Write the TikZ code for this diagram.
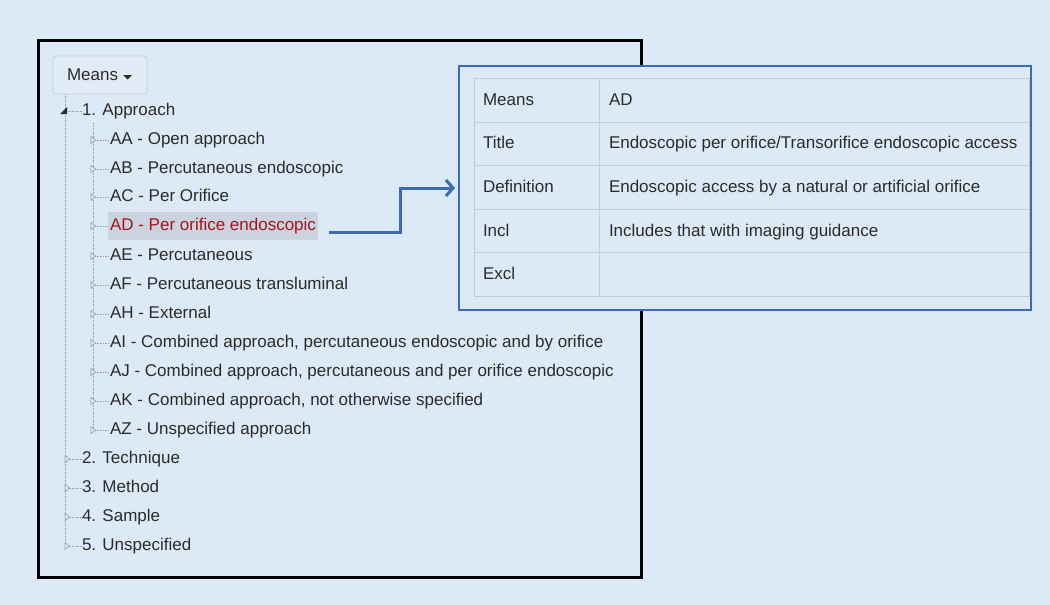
\documentclass[tikz,border=0pt]{standalone}
\usepackage{fontspec}
\setmainfont{Liberation Sans}
\usetikzlibrary{arrows.meta,calc}
\definecolor{bg}{HTML}{DCE9F6}
\definecolor{tblline}{HTML}{C3CDD8}
\definecolor{boxblue}{HTML}{3B6BB3}
\definecolor{adred}{HTML}{A3141B}
\definecolor{adhl}{HTML}{CBD4DE}
\definecolor{treegray}{HTML}{9EA4AA}
\definecolor{txt}{HTML}{2B2B2B}
\definecolor{btnline}{HTML}{C8D2DC}
\definecolor{btnfill}{HTML}{E2ECF7}
\tikzset{
  lbl/.style={anchor=west, text=txt, text height=12.5pt, text depth=3.5pt},
  treeline/.style={draw=treegray, line width=0.8pt, dash pattern=on 1pt off 0.6pt},
  leafmark/.style={draw=treegray, fill=bg, line width=0.7pt},
  tgrid/.style={draw=tblline, line width=0.8pt},
}
\begin{document}
\begin{tikzpicture}[x=1pt,y=-1pt, font=\fontsize{17}{20}\selectfont, every node/.style={inner sep=0pt, outer sep=0pt}]
\fill[bg] (0,0) rectangle (1050,605);
\useasboundingbox (0,0) rectangle (1050,605);
% outer black frame
\draw[line width=3pt] (38,40) rectangle (641,577);
% Means button
\draw[btnline, fill=btnfill, rounded corners=3pt, line width=0.8pt] (53,56) rectangle (147,94);
\node[lbl] (means) at (67,76) {Means};
\fill[txt] ($(means.east)+(5,-1)$) -- ++(9,0) -- ++(-4.5,4.5) -- cycle;
% tree level 1 spine
\draw[treeline] (65,94) -- (65,546);
% level 1 nodes
\node[lbl] (l1) at (82,111) {1. Approach};
\node[lbl] (l2) at (82,459) {2. Technique};
\node[lbl] (l3) at (82,488) {3. Method};
\node[lbl] (l4) at (82,517) {4. Sample};
\node[lbl] (l5) at (82,546) {5. Unspecified};
% expanded marker
\fill[txt] (60,114) -- (67,107) -- (67,114) -- cycle;
\draw[treeline] (67,111) -- (l1.west);
\foreach \n in {l2,l3,l4,l5}{
  \draw[treeline] ($(\n.west)+(-15,0)$) -- (\n.west);
  \draw[leafmark] ($(\n.west)+(-17,-3.5)$) -- ++(4.5,3.5) -- ++(-4.5,3.5) -- cycle;
}
% level 2 spine
\draw[treeline] (93,123) -- (93,430);
% level 2 nodes
\node[lbl] (aa) at (110,140) {AA - Open approach};
\node[lbl] (ab) at (110,169) {AB - Percutaneous endoscopic};
\node[lbl] (ac) at (110,197) {AC - Per Orifice};
\node[anchor=west, fill=adhl, text=adred, inner xsep=2pt, text height=12.5pt, text depth=3.5pt, minimum height=28pt, rounded corners=1pt] (ad) at (108,226) {AD - Per orifice endoscopic};
\node[lbl] (ae) at (110,256) {AE - Percutaneous};
\node[lbl] (af) at (110,285) {AF - Percutaneous transluminal};
\node[lbl] (ah) at (110,314) {AH - External};
\node[lbl] (ai) at (110,343) {AI - Combined approach, percutaneous endoscopic and by orifice};
\node[lbl] (aj) at (110,372) {AJ - Combined approach, percutaneous and per orifice endoscopic};
\node[lbl] (ak) at (110,401) {AK - Combined approach, not otherwise specified};
\node[lbl] (az) at (110,430) {AZ - Unspecified approach};
\foreach \n/\yy in {aa/140,ab/169,ac/197,ad/226,ae/256,af/285,ah/314,ai/343,aj/372,ak/401,az/430}{
  \draw[treeline] (95,\yy) -- (108,\yy);
  \draw[leafmark] (91,\yy-3.5) -- ++(4.5,3.5) -- ++(-4.5,3.5) -- cycle;
}
% detail box
\draw[boxblue, line width=2.5pt, fill=bg] (459,66) rectangle (1031,310);
\draw[tgrid] (474,78) rectangle (1029,296);
\foreach \yy in {122,165,209,252}{ \draw[tgrid] (474,\yy) -- (1029,\yy); }
\draw[tgrid] (599,78) -- (599,296);
\node[lbl] (k1) at (483,101) {Means};
\node[lbl] (k2) at (483,144) {Title};
\node[lbl] (k3) at (483,188) {Definition};
\node[lbl] (k4) at (483,232) {Incl};
\node[lbl] (k5) at (483,275) {Excl};
\node[lbl] (v1) at (609,101) {AD};
\node[lbl] (v2) at (609,144) {Endoscopic per orifice/Transorifice endoscopic access};
\node[lbl] (v3) at (609,188) {Endoscopic access by a natural or artificial orifice};
\node[lbl] (v4) at (609,232) {Includes that with imaging guidance};
% connector arrow
\coordinate (as) at ($(ad.east)+(11,6)$);
\coordinate (at) at ($(k3.west)+(-28,0)$);
\draw[boxblue, line width=3pt, -{Straight Barb[length=7pt,width=16pt]}] (as) -- (400,232) -- (400,188) -- (at);
\end{tikzpicture}
\end{document}
